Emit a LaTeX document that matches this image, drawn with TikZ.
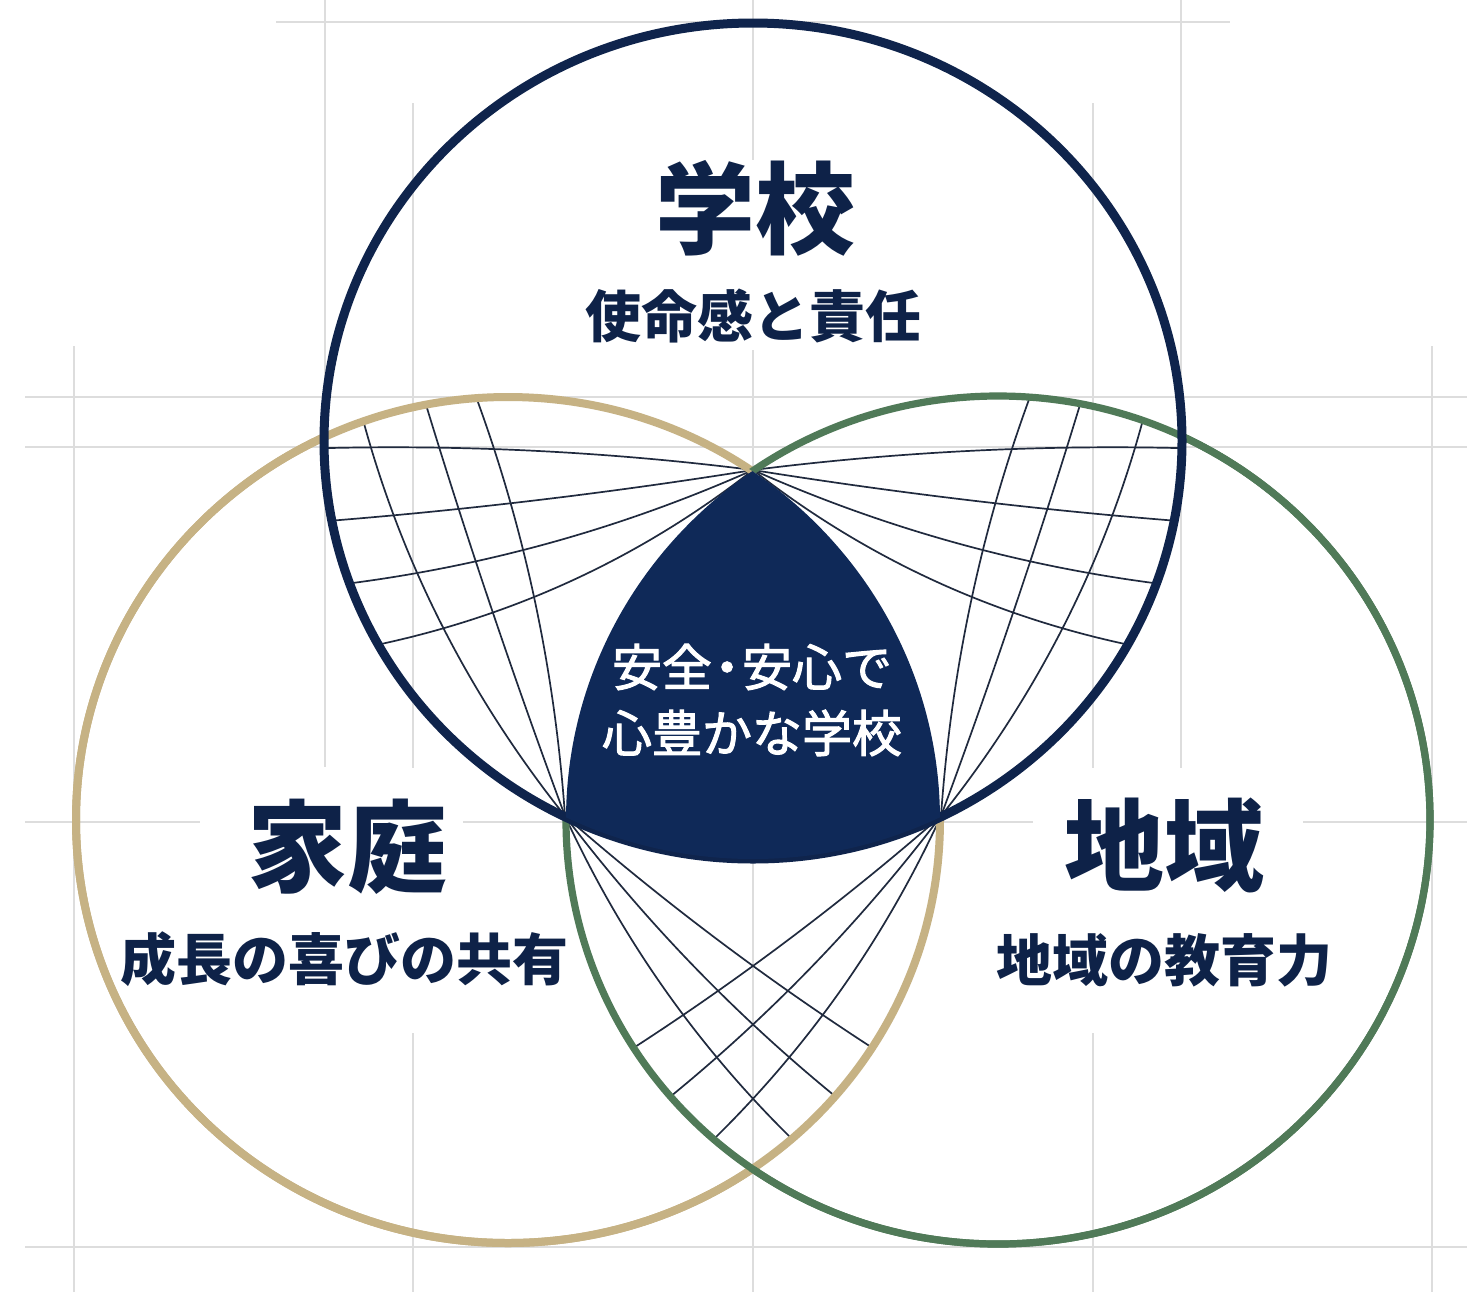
\documentclass[tikz,border=0pt]{standalone}
\usepackage{fontspec}
\usetikzlibrary{calc}
\newfontfamily\jp{Noto Sans CJK JP}
\newfontfamily\jpmed{Noto Sans CJK JP}[FakeBold=2]
\definecolor{navyline}{RGB}{15,36,76}
\definecolor{navyfill}{RGB}{15,41,88}
\definecolor{tanc}{RGB}{198,178,132}
\definecolor{greenc}{RGB}{80,122,88}
\definecolor{gridc}{RGB}{221,221,221}
\definecolor{hatchc}{RGB}{32,42,62}
\definecolor{textc}{RGB}{14,34,72}
\newcommand\navyE{(753,441) ellipse [x radius=429, y radius=418]}
\newcommand\tanE{(508,820) ellipse [x radius=432, y radius=423]}
\newcommand\greenE{(998,820) ellipse [x radius=432, y radius=424]}
\newcommand\bigR{(-50,-50) rectangle (1520,1350)}
\newcommand\qline[3]{\draw[hatch] (#1) .. controls ($(#1)!0.6667!(#2)$) and ($(#3)!0.6667!(#2)$) .. (#3) -- ($(#3)!-6pt!(#2)$);}
\begin{document}
\begin{tikzpicture}[x=0.5pt,y=-0.5pt,
  gridline/.style={draw=gridc,line width=1.1pt},
  hatch/.style={draw=hatchc,line width=0.85pt},
  title/.style={font=\jp\bfseries\fontsize{50}{50}\selectfont,text=textc,inner sep=0pt},
  subtitle/.style={font=\jp\bfseries\fontsize{28}{28}\selectfont,text=textc,inner sep=0pt},
  centertext/.style={font=\jpmed\fontsize{25}{33}\selectfont,text=white,align=center,inner sep=0pt}]
\useasboundingbox (0,0) rectangle (1467,1292);
\fill[white] (0,0) rectangle (1467,1292);
% grid
\draw[gridline] (276,22) -- (1230,22);
\draw[gridline] (25,397) -- (1467,397);
\draw[gridline] (25,447) -- (1467,447);
\draw[gridline] (25,822) -- (200,822);
\draw[gridline] (463,822) -- (1033,822);
\draw[gridline] (1303,822) -- (1467,822);
\draw[gridline] (25,1247) -- (1467,1247);
\draw[gridline] (74,346) -- (74,1292);
\draw[gridline] (325,0) -- (325,767);
\draw[gridline] (413,103) -- (413,768);
\draw[gridline] (413,1033) -- (413,1292);
\draw[gridline] (753,0) -- (753,160);
\draw[gridline] (753,350) -- (753,1292);
\draw[gridline] (1093,103) -- (1093,768);
\draw[gridline] (1093,1033) -- (1093,1292);
\draw[gridline] (1181,0) -- (1181,768);
\draw[gridline] (1432,346) -- (1432,1292);
% hatches: top-left lens
\begin{scope}
\clip \navyE; \clip \tanE;
\qline{753,470}{541.6,443.3}{330,448}
\qline{753,470}{547,503}{340,520}
\qline{753,470}{564,554}{360,582}
\qline{753,470}{591,596.5}{390,642}
\qline{565,816}{424,639}{365,427}
\qline{565,816}{489,611}{427,408}
\qline{565,816}{550,602}{479,405}
\end{scope}
% hatches: top-right lens
\begin{scope}
\clip \navyE; \clip \greenE;
\qline{753,470}{964.4,443.3}{1176,448}
\qline{753,470}{959,503}{1166,520}
\qline{753,470}{942,554}{1146,582}
\qline{753,470}{915,596.5}{1116,642}
\qline{941,816}{1082,639}{1141,427}
\qline{941,816}{1017,611}{1079,408}
\qline{941,816}{956,602}{1027,405}
\end{scope}
% hatches: bottom lens
\begin{scope}
\clip \tanE; \clip \greenE;
\qline{565,816}{708.7,941.4}{868,1045}
\qline{565,816}{681.7,969.8}{830,1092}
\qline{565,816}{647.8,996}{788,1135}
\qline{941,816}{797.3,941.4}{638,1045}
\qline{941,816}{824.3,969.8}{676,1092}
\qline{941,816}{858.2,996}{718,1135}
\end{scope}
% circle outlines
\begin{scope}[even odd rule]\clip \bigR \greenE; \draw[tanc,line width=4pt] \tanE; \end{scope}
\begin{scope}[even odd rule]\clip \bigR \navyE; \draw[tanc,line width=4pt] \tanE; \end{scope}
\begin{scope}[even odd rule]\clip \bigR \tanE; \draw[greenc,line width=3.6pt] \greenE; \end{scope}
\begin{scope}[even odd rule]\clip \bigR \navyE; \draw[greenc,line width=3.6pt] \greenE; \end{scope}
\draw[navyline,line width=4.5pt] \navyE;
% centre region
\begin{scope}
\clip \tanE; \clip \greenE;
\fill[navyfill] \navyE;
\end{scope}
% texts
\node[title] (school) at (755,208) {学校};
\node[subtitle] (schoolsub) at (753,316) {使命感と責任};
\node[title] (home) at (347,847) {家庭};
\node[subtitle] (homesub) at (344,959) {成長の喜びの共有};
\node[title] (region) at (1164,845) {地域};
\node[subtitle] (regionsub) at (1164,960) {地域の教育力};
\node[centertext] (core) at (752,700) {安全\kern-0.2em・\kern-0.2em安心で\\心豊かな学校};
\end{tikzpicture}
\end{document}
